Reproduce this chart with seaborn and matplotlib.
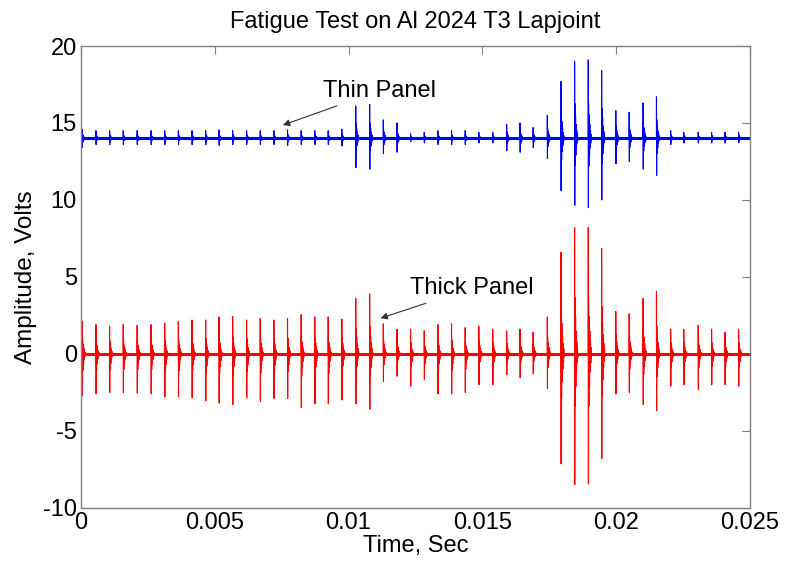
import numpy as np
import pandas as pd
import seaborn as sns
import matplotlib
matplotlib.use("Agg")
import matplotlib.pyplot as plt

# tempos dos pulsos (s)
spike_t = [0.00005, 0.00056, 0.00107, 0.00158, 0.00210, 0.00262, 0.00313, 0.00364,
           0.00415, 0.00466, 0.00516, 0.00567, 0.00619, 0.00670, 0.00721, 0.00772,
           0.00823, 0.00874, 0.00924, 0.00975, 0.01027, 0.01079, 0.01130, 0.01181,
           0.01232, 0.01283, 0.01334, 0.01385, 0.01436, 0.01487, 0.01539, 0.01591,
           0.01641, 0.01690, 0.01743, 0.01794, 0.01845, 0.01896, 0.01946, 0.01999,
           0.02049, 0.02101, 0.02151, 0.02204, 0.02253, 0.02307, 0.02357, 0.02407,
           0.02458]

# painel grosso (vermelho), base 0 V
thick_base = 0.0
thick_max = [2.1, 1.9, 1.8, 1.9, 1.85, 1.9, 2.0, 2.1, 2.2, 2.2, 2.4, 2.45, 2.2, 2.3, 2.2, 2.3,
             2.55, 2.4, 2.4, 2.25, 3.6, 3.9, 1.95, 1.6, 1.6, 1.5, 1.9, 1.95, 1.7, 1.8, 1.6, 1.5,
             1.6, 1.4, 2.4, 6.6, 8.2, 8.2, 6.85, 2.75, 2.6, 3.6, 4.05, 1.6, 1.6, 1.85, 1.6, 1.4,
             1.6]
thick_min = [-2.7, -2.6, -2.5, -2.5, -2.55, -2.6, -2.8, -2.8, -2.85, -3.05, -3.2, -3.3, -2.85,
             -3.1, -2.9, -2.9, -3.5, -3.25, -3.25, -3.0, -3.25, -3.6, -1.8, -1.45, -2.1, -1.65,
             -2.6, -2.6, -2.5, -2.0, -2.0, -1.35, -1.55, -1.3, -2.25, -7.15, -8.5, -8.45, -6.8,
             -2.6, -2.5, -3.3, -3.7, -2.1, -2.0, -2.3, -2.0, -2.0, -2.1]

# painel fino (azul), base 14 V
thin_base = 14.0
thin_max = [14.6, 14.5, 14.5, 14.5, 14.5, 14.5, 14.5, 14.5, 14.5, 14.5, 14.55, 14.5, 14.5,
            14.5, 14.5, 14.55, 14.5, 14.5, 14.5, 14.6, 16.1, 16.2, 15.2, 15.0, 14.3, 14.4,
            14.5, 14.5, 14.5, 14.4, 14.4, 14.9, 15.0, 14.7, 15.5, 17.7, 19.0, 19.1, 18.4,
            15.8, 15.7, 16.3, 16.7, 14.5, 14.4, 14.4, 14.4, 14.4, 14.4]
thin_min = [13.4, 13.6, 13.6, 13.6, 13.6, 13.6, 13.6, 13.6, 13.6, 13.6, 13.55, 13.6, 13.6,
            13.6, 13.6, 13.55, 13.6, 13.6, 13.6, 13.5, 12.1, 12.0, 13.0, 13.1, 13.8, 13.7,
            13.6, 13.6, 13.6, 13.7, 13.7, 13.2, 13.1, 13.4, 12.7, 10.6, 9.65, 9.5, 10.0,
            12.35, 12.5, 12.0, 11.6, 13.6, 13.7, 13.7, 13.7, 13.7, 13.7]

# forma do amortecimento depois de cada pulso (fração do pico)
ring = [0.45, -0.4, 0.3, -0.25, 0.18, -0.14, 0.1, -0.07, 0.05, -0.03, 0.0]


def build_signal(base, pmax, pmin, name):
    t_list, v_list = [0.0], [base]
    for t, hi, lo in zip(spike_t, pmax, pmin):
        up, down = hi - base, base - lo
        t_list += [t, t, t + 0.000006]
        v_list += [base, hi, lo]
        for k, r in enumerate(ring):
            t_list.append(t + 0.000012 * (k + 1))
            v_list.append(base + r * (up if r > 0 else down))
    t_list.append(0.025)
    v_list.append(base)
    return pd.DataFrame({'time': t_list, 'amp': v_list, 'panel': name})


df = pd.concat([build_signal(thin_base, thin_max, thin_min, 'Thin Panel'),
                build_signal(thick_base, thick_max, thick_min, 'Thick Panel')])

sns.set_style('white')
plt.rcParams['font.family'] = ['Liberation Sans', 'DejaVu Sans']
plt.rcParams['axes.unicode_minus'] = False
plt.rcParams['text.color'] = 'black'
plt.rcParams['axes.labelcolor'] = 'black'
plt.rcParams['xtick.labelcolor'] = 'black'
plt.rcParams['ytick.labelcolor'] = 'black'

fig = plt.figure(figsize=(7.86, 5.68), dpi=100)
ax = fig.add_axes([0.103, 0.106, 0.851, 0.813])

sns.lineplot(data=df, x='time', y='amp', hue='panel', palette={'Thin Panel': '#0000ff', 'Thick Panel': '#ff0000'},
             sort=False, estimator=None, lw=0.8, legend=False, ax=ax)
ax.axhline(thin_base, color='#0000ff', lw=2.2)
ax.axhline(thick_base, color='#ff0000', lw=2.2)

ax.set_xlim(0, 0.025)
ax.set_ylim(-10, 20)
ax.set_xticks([0, 0.005, 0.01, 0.015, 0.02, 0.025])
ax.set_xticklabels(['0', '0.005', '0.01', '0.015', '0.02', '0.025'])
ax.set_yticks([-10, -5, 0, 5, 10, 15, 20])
ax.tick_params(direction='in', length=6, width=0.8, color='#808080', labelsize=17,
               top=True, right=True, pad=3)
for s in ax.spines.values():
    s.set_color('#808080')
    s.set_linewidth(1.0)

ax.set_title('Fatigue Test on Al 2024 T3 Lapjoint', fontsize=17, pad=13)
ax.set_xlabel('Time, Sec', fontsize=17, labelpad=1)
ax.set_ylabel('Amplitude, Volts', fontsize=17.5, labelpad=4)

ax.annotate('Thin Panel', xy=(0.00745, 14.8), xytext=(0.00905, 17.1), fontsize=17, va='center',
            arrowprops=dict(arrowstyle='-|>', color='#333333', lw=0.8, mutation_scale=10))
ax.annotate('Thick Panel', xy=(0.0111, 2.26), xytext=(0.0123, 4.27), fontsize=17, va='center',
            arrowprops=dict(arrowstyle='-|>', color='#333333', lw=0.8, mutation_scale=10))

plt.savefig('out.png', dpi=100)
